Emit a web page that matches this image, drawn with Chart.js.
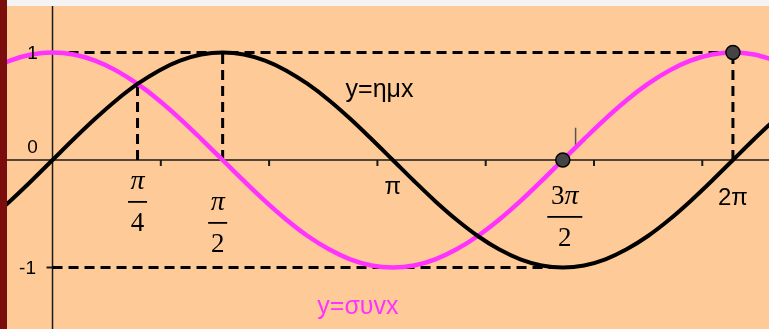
<!DOCTYPE html>
<html>
<head>
<meta charset="utf-8">
<script src="https://cdn.jsdelivr.net/npm/chart.js@4.4.1/dist/chart.umd.min.js"></script>
<style>
html,body{margin:0;padding:0;background:#FECB98;}
#wrap{width:769px;height:329px;position:relative;}
</style>
</head>
<body>
<div id="wrap"><canvas id="c"></canvas></div>
<script>
// ---- data ----
const xValues = [-0.589,-0.393,-0.196,0,0.196,0.393,0.589,0.785,0.982,1.178,1.374,1.571,1.767,1.963,2.160,2.356,2.553,2.749,2.945,3.142,3.338,3.534,3.731,3.927,4.123,4.320,4.516,4.712,4.909,5.105,5.301,5.498,5.694,5.890,6.087,6.283,6.480,6.676];
const sinValues = [-0.556,-0.383,-0.195,0,0.195,0.383,0.556,0.707,0.831,0.924,0.981,1,0.981,0.924,0.831,0.707,0.556,0.383,0.195,0,-0.195,-0.383,-0.556,-0.707,-0.831,-0.924,-0.981,-1,-0.981,-0.924,-0.831,-0.707,-0.556,-0.383,-0.195,0,0.195,0.383];
const cosValues = [0.831,0.924,0.981,1,0.981,0.924,0.831,0.707,0.556,0.383,0.195,0,-0.195,-0.383,-0.556,-0.707,-0.831,-0.924,-0.981,-1,-0.981,-0.924,-0.831,-0.707,-0.556,-0.383,-0.195,0,0.195,0.383,0.556,0.707,0.831,0.924,0.981,1,0.981,0.924];
const markerX = [4.712, 6.283];
const markerY = [0, 1];
// dashed guide segments: [x1, y1, x2, y2]
const guideSegments = [[0,1,6.283,1],[0,-1,4.712,-1],[0.785,0,0.785,0.707],[1.571,0,1.571,1],[6.283,0,6.283,1]];
const xTickValues = [0.785, 1.571, 3.142, 4.712, 6.283];
const xTickLabels = [['', 'π', '4'], ['', 'π', '2'], 'π', ['3', 'π', '2'], '2π'];
const xMinorTicks = [1,2,3,4,5,6];
const yTickValues = [1, 0, -1];
const yTickLabels = ['1', '0', '-1'];
const sinLabel = 'y=ημx';
const cosLabel = 'y=συvx';

const MAG = '#FF33FF';
const pts = (xs, ys) => xs.map((x, i) => ({x, y: ys[i]}));

const deco = {
  id: 'deco',
  beforeDraw(chart) {
    const ctx = chart.ctx;
    ctx.save();
    ctx.fillStyle = '#FECB98';
    ctx.fillRect(0, 0, chart.width, chart.height);
    const xs = chart.scales.x, ys = chart.scales.y;
    const X = v => xs.getPixelForValue(v), Y = v => ys.getPixelForValue(v);
    // axes
    ctx.strokeStyle = '#1a1a1a';
    ctx.lineWidth = 1.5;
    ctx.beginPath();
    ctx.moveTo(0, Y(0)); ctx.lineTo(chart.width, Y(0));
    ctx.moveTo(X(0), 0); ctx.lineTo(X(0), chart.height);
    ctx.stroke();
    // minor ticks
    ctx.lineWidth = 2;
    ctx.beginPath();
    xMinorTicks.forEach(v => { ctx.moveTo(X(v), Y(0)); ctx.lineTo(X(v), Y(0) + 6); });
    [1, -1].forEach(v => { ctx.moveTo(X(0) - 6, Y(v)); ctx.lineTo(X(0), Y(v)); });
    ctx.stroke();
    // dashed guides
    ctx.lineWidth = 3;
    ctx.setLineDash([10, 6]);
    ctx.strokeStyle = '#000';
    ctx.beginPath();
    guideSegments.forEach(s => { ctx.moveTo(X(s[0]), Y(s[1])); ctx.lineTo(X(s[2]), Y(s[3])); });
    ctx.stroke();
    ctx.setLineDash([]);
    // small mark near 3π/2
    ctx.strokeStyle = '#555';
    ctx.lineWidth = 1.5;
    ctx.beginPath();
    ctx.moveTo(X(4.83), Y(0.3)); ctx.lineTo(X(4.83), Y(0.14));
    ctx.stroke();
    ctx.restore();
  },
  afterDraw(chart) {
    const ctx = chart.ctx;
    const xs = chart.scales.x, ys = chart.scales.y;
    const X = v => xs.getPixelForValue(v), Y = v => ys.getPixelForValue(v);
    ctx.save();
    ctx.fillStyle = '#000';
    ctx.textBaseline = 'middle';
    // y tick labels
    ctx.textAlign = 'center';
    ctx.font = '19px "Liberation Sans", Arial, sans-serif';
    const yLabelDx = [-20, -20, -25];
    const yLabelDy = [1, -12, 1];
    yTickValues.forEach((v, i) => ctx.fillText(yTickLabels[i], X(0) + yLabelDx[i], Y(v) + yLabelDy[i]));
    // x tick labels
    const dxs = [0, -5, 0, 2, 0];
    const dys = [22, 43, 27, 37, 38];
    const up = '27px "Liberation Serif", "DejaVu Serif", serif';
    const it = 'italic 28px "Liberation Serif", "DejaVu Serif", serif';
    xTickValues.forEach((v, i) => {
      const lab = xTickLabels[i];
      const cx = X(v) + dxs[i], cy = Y(0) + dys[i];
      if (Array.isArray(lab)) {
        ctx.font = up; const w1 = ctx.measureText(lab[0]).width;
        ctx.font = it; const w2 = ctx.measureText(lab[1]).width;
        const left = cx - (w1 + w2) / 2;
        ctx.textAlign = 'left';
        ctx.font = up; ctx.fillText(lab[0], left, cy);
        ctx.font = it; ctx.fillText(lab[1], left + w1, cy);
        const w = lab[0].length ? 35 : 19;
        ctx.fillRect(cx - w / 2, cy + 19, w, 1.8);
        ctx.textAlign = 'center';
        ctx.font = up;
        ctx.fillText(lab[2], cx, cy + 42);
      } else {
        ctx.textAlign = 'center';
        ctx.font = '24px "Liberation Sans", Arial, sans-serif';
        ctx.fillText(lab, cx, cy);
      }
    });
    // curve labels
    ctx.textAlign = 'center';
    ctx.font = '25px "Liberation Sans", Arial, sans-serif';
    ctx.fillText(sinLabel, X(3.02), Y(0.65));
    ctx.fillStyle = MAG;
    ctx.fillText(cosLabel, X(2.82), Y(-1.37));
    // frame strips
    ctx.fillStyle = '#F4F4F4';
    ctx.fillRect(0, 0, chart.width, 6);
    ctx.fillStyle = '#7C0D0D';
    ctx.fillRect(0, 0, 7, chart.height);
    ctx.restore();
  }
};

new Chart(document.getElementById('c'), {
  type: 'scatter',
  data: {
    datasets: [
      { data: pts(xValues, cosValues), showLine: true, borderColor: MAG, borderWidth: 4.5, pointRadius: 0, cubicInterpolationMode: 'monotone', order: 3 },
      { data: pts(xValues, sinValues), showLine: true, borderColor: '#000', borderWidth: 4, pointRadius: 0, cubicInterpolationMode: 'monotone', order: 2 },
      { data: pts(markerX, markerY), showLine: false, pointRadius: 7, pointBackgroundColor: '#444', pointBorderColor: '#000', pointBorderWidth: 1.5, order: 1 }
    ]
  },
  options: {
    responsive: true,
    maintainAspectRatio: false,
    animation: false,
    layout: { padding: 0, autoPadding: false },
    plugins: { legend: { display: false }, tooltip: { enabled: false } },
    scales: {
      x: { type: 'linear', min: -0.485, max: 6.616, display: false },
      y: { type: 'linear', min: -1.572, max: 1.488, display: false }
    }
  },
  plugins: [deco]
});
</script>
</body>
</html>
